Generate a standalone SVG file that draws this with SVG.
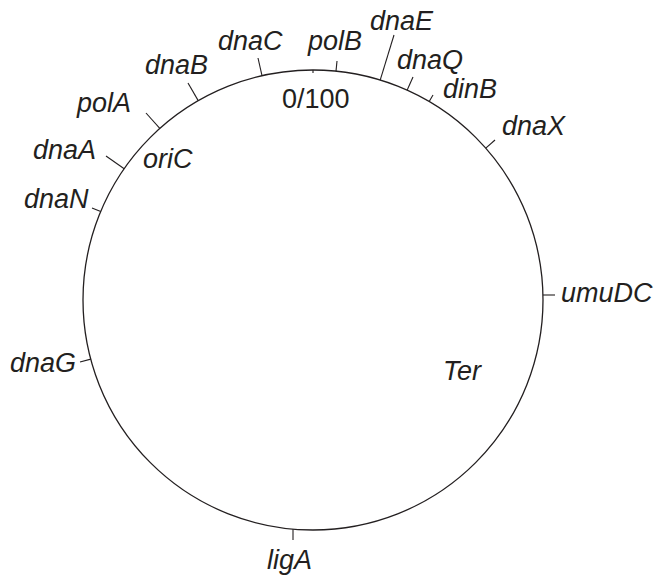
<svg xmlns="http://www.w3.org/2000/svg" width="656" height="577" viewBox="0 0 656 577">
  <style>
    .chrom { fill: none; stroke: #231f20; stroke-width: 1.3; }
    .tick { stroke: #231f20; stroke-width: 1.1; fill: none; }
    .gene { font-family: "Liberation Sans", Arial, sans-serif; font-size: 27px; font-style: italic; fill: #231f20; }
    .pos { font-family: "Liberation Sans", Arial, sans-serif; font-size: 27px; fill: #231f20; }
  </style>
  <rect width="656" height="577" fill="#ffffff"/>

  <!-- circular chromosome map -->
  <g id="chromosome">
    <circle class="chrom" cx="313" cy="300" r="230"/>
    <line class="tick" x1="313" y1="70" x2="313" y2="73"/>
    <text class="pos" x="282" y="108">0/100</text>
  </g>

  <g id="loci">
    <g id="polB"><line class="tick" x1="336" y1="71.1" x2="337" y2="61"/><text class="gene" x="308" y="50">polB</text></g>
    <g id="dnaC"><line class="tick" x1="262" y1="75.7" x2="258" y2="58"/><text class="gene" x="218" y="50">dnaC</text></g>
    <g id="dnaB"><line class="tick" x1="198.2" y1="100.6" x2="188" y2="83"/><text class="gene" x="145" y="74">dnaB</text></g>
    <g id="polA"><line class="tick" x1="159.8" y1="128.4" x2="146" y2="113"/><text class="gene" x="77" y="112">polA</text></g>
    <g id="dnaA"><line class="tick" x1="124.2" y1="168.7" x2="106" y2="156"/><text class="gene" x="33" y="159">dnaA</text></g>
    <g id="oriC"><text class="gene" x="143" y="168">oriC</text></g>
    <g id="dnaN"><line class="tick" x1="100.7" y1="211.6" x2="92" y2="208"/><text class="gene" x="24" y="208">dnaN</text></g>
    <g id="dnaG"><line class="tick" x1="90.8" y1="359.1" x2="80" y2="362"/><text class="gene" x="10" y="372">dnaG</text></g>
    <g id="ligA"><line class="tick" x1="293" y1="529.2" x2="293" y2="540"/><text class="gene" x="267" y="569">ligA</text></g>
    <g id="umuDC"><line class="tick" x1="543" y1="295" x2="555" y2="295"/><text class="gene" x="561" y="302">umuDC</text></g>
    <g id="dnaX"><line class="tick" x1="485.8" y1="148.1" x2="495" y2="140"/><text class="gene" x="502" y="135">dnaX</text></g>
    <g id="dinB"><line class="tick" x1="429.2" y1="101.5" x2="433" y2="95"/><text class="gene" x="443" y="98">dinB</text></g>
    <g id="dnaQ"><line class="tick" x1="407.1" y1="90.2" x2="413" y2="77"/><text class="gene" x="397" y="69">dnaQ</text></g>
    <g id="dnaE"><line class="tick" x1="380.2" y1="80.1" x2="394" y2="35"/><text class="gene" x="370" y="30">dnaE</text></g>
    <g id="Ter"><text class="gene" x="443" y="380">Ter</text></g>
  </g>

  <!-- no separate connectors: each locus tick sits in its own group -->
  <g id="connectors"/>
</svg>
